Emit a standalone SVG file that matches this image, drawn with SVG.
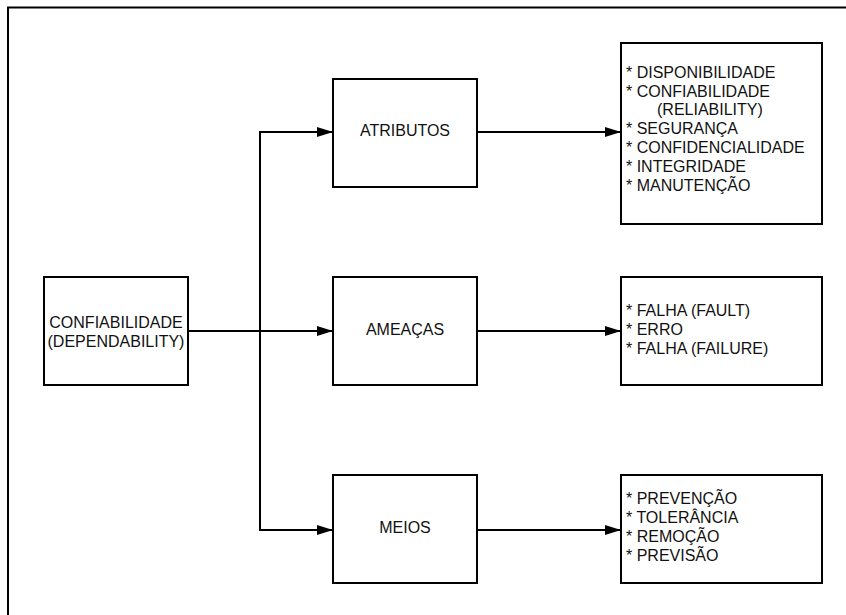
<svg xmlns="http://www.w3.org/2000/svg" width="846" height="615" viewBox="0 0 846 615">
  <style>
    .box { fill: #ffffff; stroke: #000000; stroke-width: 2; }
    .edge { fill: none; stroke: #000000; stroke-width: 2; }
    .lbl { font-family: "Liberation Sans", Arial, sans-serif; font-size: 16px; fill: #111111; }
    .mid { text-anchor: middle; }
  </style>
  <defs>
    <marker id="arrow" markerUnits="userSpaceOnUse" markerWidth="16" markerHeight="12" refX="16" refY="6" orient="auto">
      <path d="M0,1 L16,6 L0,11 Z" fill="#000000"/>
    </marker>
  </defs>

  <rect width="846" height="615" fill="#ffffff"/>
  <!-- page frame (continues past the right and bottom edges) -->
  <path d="M8,615 V7.5 H846" fill="none" stroke="#000000" stroke-width="2"/>

  <g id="connectors">
    <path class="edge" d="M188,331 H333" marker-end="url(#arrow)"/>
    <path class="edge" d="M260,530 V132 H333" marker-end="url(#arrow)"/>
    <path class="edge" d="M260,400 V530 H333" marker-end="url(#arrow)"/>
    <path class="edge" d="M477,132 H621" marker-end="url(#arrow)"/>
    <path class="edge" d="M477,331 H621" marker-end="url(#arrow)"/>
    <path class="edge" d="M477,530 H621" marker-end="url(#arrow)"/>
  </g>

  <g id="dependability">
    <rect class="box" x="44" y="277" width="144" height="108"/>
    <text class="lbl mid" x="116" y="327.5">CONFIABILIDADE</text>
    <text class="lbl mid" x="116" y="347">(DEPENDABILITY)</text>
  </g>

  <g id="atributos">
    <rect class="box" x="333" y="79" width="144" height="108"/>
    <text class="lbl mid" x="405" y="136">ATRIBUTOS</text>
  </g>

  <g id="ameacas">
    <rect class="box" x="333" y="277" width="144" height="108"/>
    <text class="lbl mid" x="405" y="335">AMEAÇAS</text>
  </g>

  <g id="meios">
    <rect class="box" x="333" y="475" width="144" height="108"/>
    <text class="lbl mid" x="405" y="533">MEIOS</text>
  </g>

  <g id="atributos-list">
    <rect class="box" x="621" y="43" width="201" height="181"/>
    <text class="lbl" x="626">
      <tspan x="626" y="78">* DISPONIBILIDADE</tspan>
      <tspan x="626" y="96.5">* CONFIABILIDADE</tspan>
      <tspan x="657" y="115">(RELIABILITY)</tspan>
      <tspan x="626" y="134">* SEGURANÇA</tspan>
      <tspan x="626" y="153">* CONFIDENCIALIDADE</tspan>
      <tspan x="626" y="172">* INTEGRIDADE</tspan>
      <tspan x="626" y="191">* MANUTENÇÃO</tspan>
    </text>
  </g>

  <g id="ameacas-list">
    <rect class="box" x="621" y="277" width="201" height="108"/>
    <text class="lbl">
      <tspan x="626" y="316">* FALHA (FAULT)</tspan>
      <tspan x="626" y="334.5">* ERRO</tspan>
      <tspan x="626" y="353.5">* FALHA (FAILURE)</tspan>
    </text>
  </g>

  <g id="meios-list">
    <rect class="box" x="621" y="475" width="201" height="108"/>
    <text class="lbl">
      <tspan x="626" y="503.5">* PREVENÇÃO</tspan>
      <tspan x="626" y="522.5">* TOLERÂNCIA</tspan>
      <tspan x="626" y="542">* REMOÇÃO</tspan>
      <tspan x="626" y="561">* PREVISÃO</tspan>
    </text>
  </g>
</svg>
